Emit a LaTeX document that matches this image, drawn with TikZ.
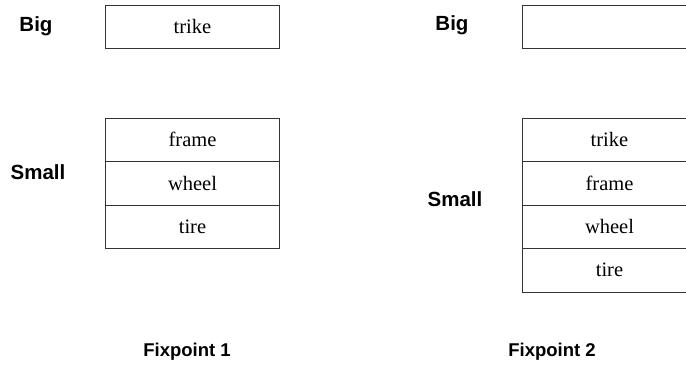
\documentclass[tikz,border=0pt]{standalone}
\usepackage{fontspec}
\setmainfont{Liberation Serif}
\newfontfamily\labelfont{Liberation Sans}
\usetikzlibrary{positioning}
\tikzset{
  cell/.style={draw=black!80, minimum width=174pt, minimum height=43.5pt,
    inner sep=0pt, outer sep=0pt, font=\fontsize{20.5}{24}\selectfont},
  side/.style={font=\labelfont\bfseries\fontsize{20.5}{24}\selectfont},
  caption/.style={font=\labelfont\bfseries\fontsize{18.5}{22}\selectfont}
}
\begin{document}
\begin{tikzpicture}[x=1pt, y=-1pt, line width=0.9pt]
  \useasboundingbox (0,0) rectangle (686,368);
  \clip (0,0) rectangle (686,368);
  % Fixpoint 1
  \node[side] (bigA) at (36,26) {Big};
  \node[side] (smallA) at (38,172.5) {Small};
  \node[cell] (bigboxA) at (192.5,26.75) {trike};
  \node[cell] (frameA) at (192.5,139.75) {frame};
  \node[cell, below=0pt of frameA] (wheelA) {wheel};
  \node[cell, below=0pt of wheelA] (tireA) {tire};
  \node[caption] (fixA) at (187,352) {Fixpoint 1};
  % Fixpoint 2
  \node[side] (bigB) at (452,25) {Big};
  \node[side] (smallB) at (455,199) {Small};
  \node[cell] (bigboxB) at (609.5,26.75) {};
  \node[cell] (trikeB) at (609.5,139.75) {trike};
  \node[cell, below=0pt of trikeB] (frameB) {frame};
  \node[cell, below=0pt of frameB] (wheelB) {wheel};
  \node[cell, below=0pt of wheelB] (tireB) {tire};
  \node[caption] (fixB) at (552,352) {Fixpoint 2};
\end{tikzpicture}
\end{document}
